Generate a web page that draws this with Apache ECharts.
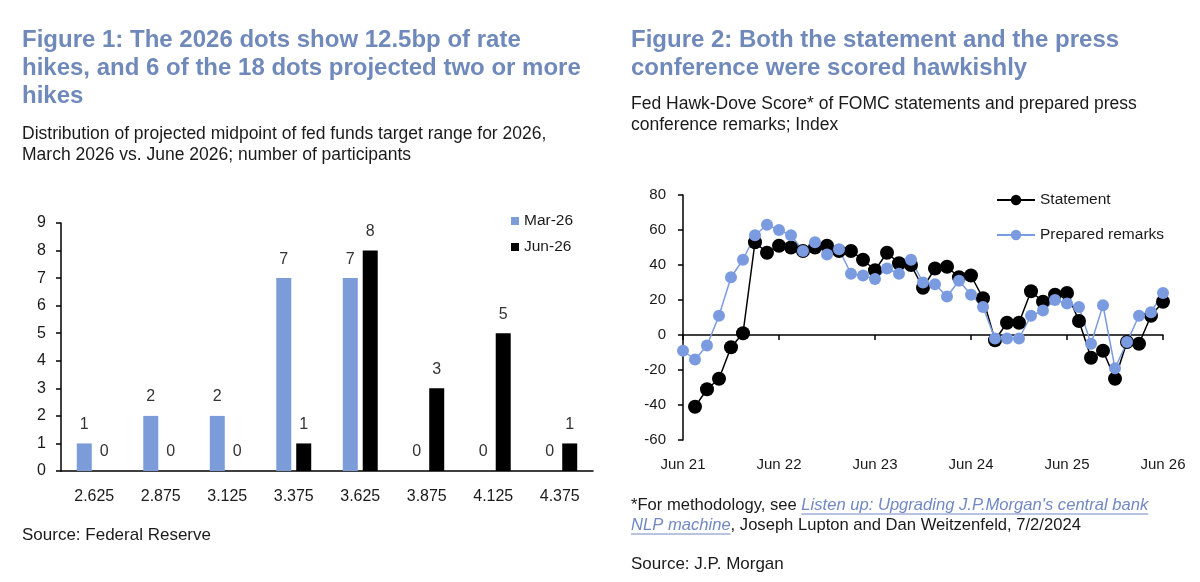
<!DOCTYPE html>
<html>
<head>
<meta charset="utf-8">
<title>Fed dots and hawk-dove score</title>
<script src="https://cdn.jsdelivr.net/npm/echarts@6/dist/echarts.min.js"></script>
<style>
  html, body { margin: 0; padding: 0; background: #fff; }
  #chart { width: 1200px; height: 582px; }
</style>
</head>
<body>
<div id="chart"></div>
<script>
// Figure 1 data: number of participants at each projected midpoint
const midpoints = ["2.625", "2.875", "3.125", "3.375", "3.625", "3.875", "4.125", "4.375"];
const mar26 = [1, 2, 2, 7, 7, 0, 0, 0];
const jun26 = [0, 0, 0, 1, 8, 3, 5, 1];

// Figure 2 data: FOMC meetings Jun 2021 - Jun 2026
const meetings = [
  "Jun 21", "Jul 21", "Sep 21", "Nov 21", "Dec 21",
  "Jan 22", "Mar 22", "May 22", "Jun 22", "Jul 22", "Sep 22", "Nov 22", "Dec 22",
  "Feb 23", "Mar 23", "May 23", "Jun 23", "Jul 23", "Sep 23", "Nov 23", "Dec 23",
  "Jan 24", "Mar 24", "May 24", "Jun 24", "Jul 24", "Sep 24", "Nov 24", "Dec 24",
  "Jan 25", "Mar 25", "May 25", "Jun 25", "Jul 25", "Sep 25", "Oct 25", "Dec 25",
  "Jan 26", "Mar 26", "Apr 26", "Jun 26"
];
const statement = [
  null, -41, -31, -25, -7, 1, 53, 47, 51, 50,
  48, 50, 51, 48, 48, 43, 37, 47, 41, 40,
  27, 38, 39, 33, 34, 21, -3, 7, 7, 25,
  19, 23, 24, 8, -13, -9, -25, -4, -5, 11,
  19
];
const remarks = [
  -9, -14, -6, 11, 33, 43, 57, 63, 60, 57,
  48, 53, 46, 49, 35, 34, 32, 38, 35, 43,
  30, 29, 22, 31, 23, 16, -2, -2, -2, 11,
  14, 20, 18, 16, -5, 17, -19, -4, 11, 13,
  24
];

const FONT = "Liberation Sans, Arial, sans-serif";
const TITLE_BLUE = "#7089bb";
const BAR_BLUE = "#7c9cd9";
const DOT_BLUE = "#7b9be0";
const LINK_BLUE = "#7088c4";
const TEXT = "#1a1a1a";

// footnote pieces, measured so the link underline sits under the link text
const noteLead = "*For methodology, see ";
const noteLink1 = "Listen up: Upgrading J.P.Morgan's central bank";
const noteLink2 = "NLP machine";
const NOTE_SIZE = 16.6;

const measure = (txt, italic) => {
  const ctx = document.createElement("canvas").getContext("2d");
  ctx.font = (italic ? "italic " : "") + NOTE_SIZE + "px " + FONT;
  return ctx.measureText(txt).width;
};

const chart = echarts.init(document.getElementById("chart"));

const titleStyle = { fontSize: 24, fontWeight: "bold", color: TITLE_BLUE, lineHeight: 28, fontFamily: FONT };
const subStyle = { fontSize: 17.5, fontWeight: "normal", color: TEXT, lineHeight: 21, fontFamily: FONT };
const srcStyle = { fontSize: 17, fontWeight: "normal", color: TEXT, lineHeight: 20, fontFamily: FONT };

const leadW = measure(noteLead, false);
const link1W = measure(noteLink1, true);
const link2W = measure(noteLink2, true);

const option = {
  animation: false,
  textStyle: { fontFamily: FONT },
  title: [
    {
      text: "Figure 1: The 2026 dots show 12.5bp of rate\nhikes, and 6 of the 18 dots projected two or more\nhikes",
      left: 22, top: 26, padding: 0, textStyle: titleStyle
    },
    {
      text: "Distribution of projected midpoint of fed funds target range for 2026,\nMarch 2026 vs. June 2026; number of participants",
      left: 22, top: 124, padding: 0, textStyle: subStyle
    },
    {
      text: "Source: Federal Reserve",
      left: 22, top: 525, padding: 0, textStyle: srcStyle
    },
    {
      text: "Figure 2: Both the statement and the press\nconference were scored hawkishly",
      left: 631, top: 26, padding: 0, textStyle: titleStyle
    },
    {
      text: "Fed Hawk-Dove Score* of FOMC statements and prepared press\nconference remarks; Index",
      left: 631, top: 94, padding: 0, textStyle: subStyle
    },
    {
      text: noteLead + "{l|" + noteLink1 + "}\n{l|" + noteLink2 + "}, Joseph Lupton and Dan Weitzenfeld, 7/2/2024",
      left: 631, top: 495, padding: 0,
      textStyle: {
        fontSize: NOTE_SIZE, fontWeight: "normal", color: TEXT, lineHeight: 20, fontFamily: FONT,
        rich: { l: { fontSize: NOTE_SIZE, fontStyle: "italic", color: LINK_BLUE, lineHeight: 20, fontFamily: FONT } }
      }
    },
    {
      text: "Source: J.P. Morgan",
      left: 631, top: 554, padding: 0, textStyle: srcStyle
    }
  ],
  legend: [
    {
      data: ["Mar-26", "Jun-26"],
      orient: "vertical",
      left: 506, top: 208,
      icon: "rect", itemWidth: 8, itemHeight: 8, itemGap: 10,
      textStyle: { fontSize: 15.5, color: TEXT, fontFamily: FONT }
    },
    {
      data: ["Statement", "Prepared remarks"],
      orient: "vertical",
      left: 991, top: 187,
      itemWidth: 38, itemHeight: 13, itemGap: 19,
      textStyle: { fontSize: 15.5, color: TEXT, fontFamily: FONT }
    }
  ],
  grid: [
    { left: 61, top: 223, width: 532, height: 248 },
    { left: 683, top: 195, width: 480, height: 245 }
  ],
  xAxis: [
    {
      gridIndex: 0, type: "category", data: midpoints,
      axisLine: { lineStyle: { color: "#000", width: 1.5 } },
      axisTick: { show: false },
      axisLabel: { margin: 18, fontSize: 16, color: TEXT, fontFamily: FONT }
    },
    {
      gridIndex: 1, type: "category", data: meetings, boundaryGap: false,
      axisLine: { onZero: true, lineStyle: { color: "#000", width: 1.5 } },
      axisTick: { show: true, interval: 7, length: 5, lineStyle: { color: "#000", width: 1.5 } },
      axisLabel: { show: false }
    },
    {
      gridIndex: 1, type: "category", data: meetings, boundaryGap: false,
      position: "bottom",
      axisLine: { show: false, onZero: false },
      axisTick: { show: false },
      axisLabel: { interval: 7, margin: 17, fontSize: 15, color: TEXT, fontFamily: FONT }
    }
  ],
  yAxis: [
    {
      gridIndex: 0, type: "value", min: 0, max: 9, interval: 1,
      axisLine: { show: true, lineStyle: { color: "#000", width: 1.5 } },
      axisTick: { show: true, length: 5, lineStyle: { color: "#000", width: 1.5 } },
      splitLine: { show: false },
      axisLabel: { margin: 15, fontSize: 16, color: TEXT, fontFamily: FONT }
    },
    {
      gridIndex: 1, type: "value", min: -60, max: 80, interval: 20,
      axisLine: { show: true, lineStyle: { color: "#000", width: 1.5 } },
      axisTick: { show: true, length: 5, lineStyle: { color: "#000", width: 1.5 } },
      splitLine: { show: false },
      axisLabel: { margin: 17, fontSize: 15, color: TEXT, fontFamily: FONT }
    }
  ],
  series: [
    {
      name: "Mar-26", type: "bar", xAxisIndex: 0, yAxisIndex: 0,
      data: mar26, barWidth: 15, barGap: "33%",
      itemStyle: { color: BAR_BLUE },
      label: { show: true, position: "top", distance: 11, fontSize: 16, color: "#333", fontFamily: FONT }
    },
    {
      name: "Jun-26", type: "bar", xAxisIndex: 0, yAxisIndex: 0,
      data: jun26, barWidth: 15,
      itemStyle: { color: "#000" },
      label: { show: true, position: "top", distance: 11, fontSize: 16, color: "#333", fontFamily: FONT }
    },
    {
      name: "Statement", type: "line", xAxisIndex: 1, yAxisIndex: 1,
      data: statement, symbol: "circle", symbolSize: 14, showAllSymbol: true,
      itemStyle: { color: "#000" },
      lineStyle: { color: "#000", width: 1.5 }
    },
    {
      name: "Prepared remarks", type: "line", xAxisIndex: 1, yAxisIndex: 1,
      data: remarks, symbol: "circle", symbolSize: 12, showAllSymbol: true,
      itemStyle: { color: DOT_BLUE },
      lineStyle: { color: DOT_BLUE, width: 1.5 }
    }
  ],
  graphic: [
    // underline for the linked report title in the footnote
    { type: "line", shape: { x1: 631 + leadW, y1: 514, x2: 631 + leadW + link1W, y2: 514 }, style: { stroke: LINK_BLUE, lineWidth: 1 } },
    { type: "line", shape: { x1: 631, y1: 534, x2: 631 + link2W, y2: 534 }, style: { stroke: LINK_BLUE, lineWidth: 1 } }
  ]
};

chart.setOption(option);
window.addEventListener("resize", () => chart.resize());
</script>
</body>
</html>
